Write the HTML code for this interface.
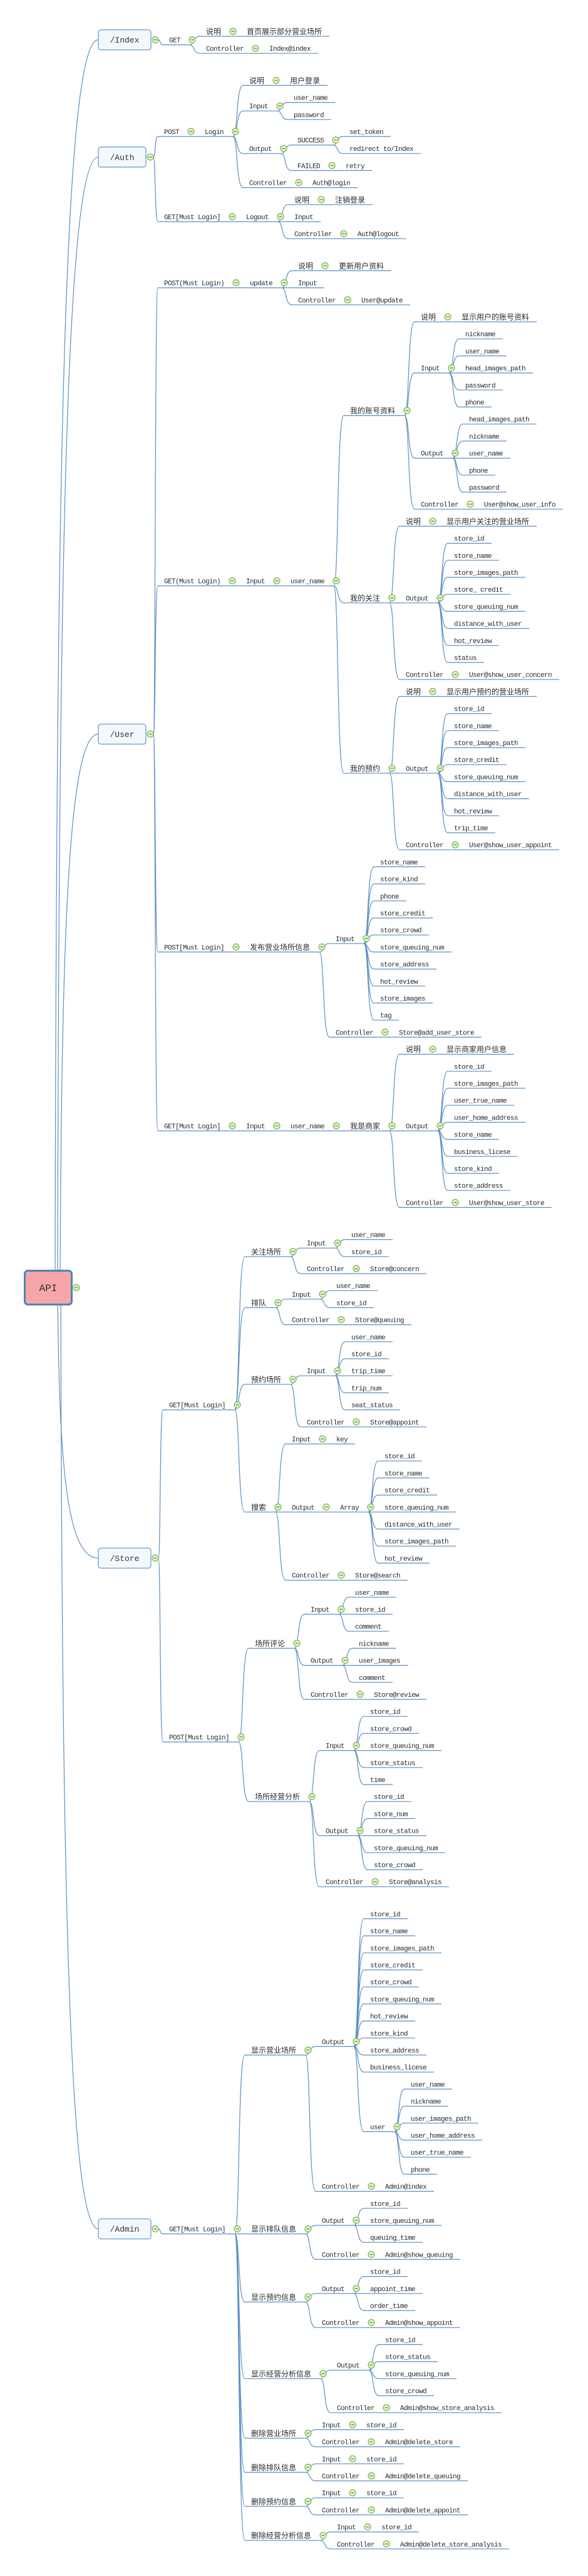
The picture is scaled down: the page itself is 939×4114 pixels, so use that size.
<!DOCTYPE html>
<html><head><meta charset="utf-8"><style>
html,body{margin:0;padding:0;background:#fff;}
svg{display:block;}
</style></head><body>
<svg id="s" xmlns="http://www.w3.org/2000/svg" width="939" height="4114" viewBox="0 0 939 4114"></svg>
<script>
function L(label){var c=[];for(var i=1;i<arguments.length;i++){var a=arguments[i];c.push(typeof a==="string"?{label:a,children:[]}:a);}return {label:label,children:c};}
var tree=L("API",
 L("/Index", L("GET", L("说明",L("首页展示部分营业场所")), L("Controller",L("Index@index")))),
 L("/Auth",
  L("POST", L("Login", L("说明",L("用户登录")), L("Input","user_name","password"), L("Output", L("SUCCESS","set_token","redirect to/Index"), L("FAILED","retry")), L("Controller","Auth@login"))),
  L("GET[Must Login]", L("Logout", L("说明","注销登录"), L("Input"), L("Controller","Auth@logout")))),
 L("/User",
  L("POST(Must Login)", L("update", L("说明","更新用户资料"), L("Input"), L("Controller","User@update"))),
  L("GET(Must Login)", L("Input", L("user_name",
    L("我的账号资料", L("说明","显示用户的账号资料"), L("Input","nickname","user_name","head_images_path","password","phone"), L("Output","head_images_path","nickname","user_name","phone","password"), L("Controller","User@show_user_info")),
    L("我的关注", L("说明","显示用户关注的营业场所"), L("Output","store_id","store_name","store_images_path","store_ credit","store_queuing_num","distance_with_user","hot_review","status"), L("Controller","User@show_user_concern")),
    L("我的预约", L("说明","显示用户预约的营业场所"), L("Output","store_id","store_name","store_images_path","store_credit","store_queuing_num","distance_with_user","hot_review","trip_time"), L("Controller","User@show_user_appoint"))))),
  L("POST[Must Login]", L("发布营业场所信息", L("Input","store_name","store_kind","phone","store_credit","store_crowd","store_queuing_num","store_address","hot_review","store_images","tag"), L("Controller","Store@add_user_store"))),
  L("GET[Must Login]", L("Input", L("user_name", L("我是商家", L("说明","显示商家用户信息"), L("Output","store_id","store_images_path","user_true_name","user_home_address","store_name","business_licese","store_kind","store_address"), L("Controller","User@show_user_store")))))),
 L("/Store",
  L("GET[Must Login]",
   L("关注场所", L("Input","user_name","store_id"), L("Controller","Store@concern")),
   L("排队", L("Input","user_name","store_id"), L("Controller","Store@queuing")),
   L("预约场所", L("Input","user_name","store_id","trip_time","trip_num","seat_status"), L("Controller","Store@appoint")),
   L("搜索", L("Input","key"), L("Output", L("Array","store_id","store_name","store_credit","store_queuing_num","distance_with_user","store_images_path","hot_review")), L("Controller","Store@search"))),
  L("POST[Must Login]",
   L("场所评论", L("Input","user_name","store_id","comment"), L("Output","nickname","user_images","comment"), L("Controller","Store@review")),
   L("场所经营分析", L("Input","store_id","store_crowd","store_queuing_num","store_status","time"), L("Output","store_id","store_num","store_status","store_queuing_num","store_crowd"), L("Controller","Store@analysis")))),
 L("/Admin", L("GET[Must Login]",
   L("显示营业场所", L("Output","store_id","store_name","store_images_path","store_credit","store_crowd","store_queuing_num","hot_review","store_kind","store_address","business_licese", L("user","user_name","nickname","user_images_path","user_home_address","user_true_name","phone")), L("Controller","Admin@index")),
   L("显示排队信息", L("Output","store_id","store_queuing_num","queuing_time"), L("Controller","Admin@show_queuing")),
   L("显示预约信息", L("Output","store_id","appoint_time","order_time"), L("Controller","Admin@show_appoint")),
   L("显示经营分析信息", L("Output","store_id","store_status","store_queuing_num","store_crowd"), L("Controller","Admin@show_store_analysis")),
   L("删除营业场所", L("Input","store_id"), L("Controller","Admin@delete_store")),
   L("删除排队信息", L("Input","store_id"), L("Controller","Admin@delete_queuing")),
   L("删除预约信息", L("Input","store_id"), L("Controller","Admin@delete_appoint")),
   L("删除经营分析信息", L("Input","store_id"), L("Controller","Admin@delete_store_analysis"))))
);
function isC(ch){return /[\u2E80-\u9fff\uff00-\uffef\u3000-\u303f]/.test(ch);}
function tw(s){var n=0;for(var ch of s)n+=isC(ch)?12:6;return n;}
var row=50,P=27.2;
function lay(n,x,kind){
  n.x=x;n.kind=kind;n.w=tw(n.label);
  var cx;
  if(kind==="l1"){n.bw=n.label.length>=6?84:76;cx=157+n.bw+29;}
  else{n.c=x+n.w+19;cx=n.c+22;}
  if(!n.children.length){n.y=row;n.top=row;n.bot=row;row+=P;return;}
  n.cx=cx;
  n.children.forEach(function(ch){lay(ch,cx,"n");});
  n.top=n.children[0].top;n.bot=n.children[n.children.length-1].bot;n.y=(n.top+n.bot)/2;
}
tree.children.forEach(function(l1,i){if(i>0)row+=24;lay(l1,157,"l1");});
tree.top=tree.children[0].top;tree.bot=tree.children[tree.children.length-1].bot;tree.y=(tree.top+tree.bot)/2;
var lines=[],shapes=[],texts=[];
var LC="#5b8fc4";
function curve(sx,sy,ex,ey){
  if(Math.abs(sy-ey)<0.5)return '<path d="M'+sx+' '+sy+' L'+ex+' '+ey+'" />';
  var dx=ex-sx;
  return '<path d="M'+sx+' '+sy+' C'+(sx+dx*0.5)+' '+sy+' '+(sx+dx*0.3)+' '+ey+' '+ex+' '+ey+'" />';
}
function circ(x,y){shapes.push('<circle cx="'+x+'" cy="'+y+'" r="5" fill="#e6f4d6" stroke="#79b346" stroke-width="1.2"/><line x1="'+(x-2.6)+'" y1="'+y+'" x2="'+(x+2.6)+'" y2="'+y+'" stroke="#5f9c30" stroke-width="1.4"/>');}
function esc(s){return s.replace(/&/g,"&amp;").replace(/</g,"&lt;");}
function text(x,y,s){
  var out='',cur='',cc=null,px=x;
  function flush(){if(!cur)return;
    if(cc)out+='<tspan x="'+px+'" y="'+(y+4.5)+'" font-size="12" font-family="\'Liberation Sans\',\'Noto Sans CJK SC\',sans-serif">'+esc(cur)+'</tspan>';
    else out+='<tspan x="'+px+'" y="'+(y+4)+'" font-size="11" letter-spacing="-0.6" font-family="\'Liberation Mono\',monospace">'+esc(cur)+'</tspan>';
    px+=tw(cur);cur='';}
  for(var ch of s){var c=isC(ch);if(cc!==null&&c!==cc)flush();cc=c;cur+=ch;}
  flush();
  texts.push('<text fill="#2b2b2b">'+out+'</text>');
}
function draw(n){
  if(n.kind==="l1"){
    var r=157+n.bw;
    shapes.push('<rect x="157" y="'+(n.y-16)+'" width="'+n.bw+'" height="32" rx="4" fill="#f3f8fd" stroke="#6b9fcf" stroke-width="1.3"/>');
    texts.push('<text x="'+(157+n.bw/2)+'" y="'+(n.y+4.5)+'" text-anchor="middle" font-size="13" font-family="\'Liberation Mono\',monospace" fill="#333">'+esc(n.label)+'</text>');
    circ(r+7,n.y);
    n.children.forEach(function(ch){lines.push(curve(r+12,n.y,ch.x-10,ch.y+8));draw(ch);});
    return;
  }
  var uy=n.y+8;
  if(!n.children.length){lines.push('<path d="M'+(n.x-10)+' '+uy+' L'+(n.x+n.w+12)+' '+uy+'" />');}
  else{
    lines.push('<path d="M'+(n.x-10)+' '+uy+' L'+(n.c-4)+' '+uy+'" />');
    circ(n.c,n.y);
    n.children.forEach(function(ch){lines.push(curve(n.c-4,uy,ch.x-10,ch.y+8));draw(ch);});
  }
  text(n.x,n.y,n.label);
}
var ry=tree.y;
var sxs=[88,92,96,92,97];
tree.children.forEach(function(l1,i){
  var sx=sxs[i],yc=l1.y;
  lines.push('<path d="M'+sx+' '+ry+' C'+(sx+2)+' '+(yc+(ry-yc)*0.35)+' '+(sx+14)+' '+yc+' 157 '+yc+'" />');
  draw(l1);
});
shapes.push('<rect x="39.5" y="'+(ry-27)+'" width="75" height="54" rx="5" fill="#f6a6a6" stroke="#4a85b3" stroke-width="3"/>');
texts.push('<text x="77" y="'+(ry+5.5)+'" text-anchor="middle" font-size="16" font-family="\'Liberation Mono\',monospace" fill="#333">API</text>');
circ(122,ry);
document.getElementById("s").innerHTML='<g fill="none" stroke="'+LC+'" stroke-width="1.2">'+lines.join("")+'</g>'+shapes.join("")+texts.join("");
</script>
</body></html>
